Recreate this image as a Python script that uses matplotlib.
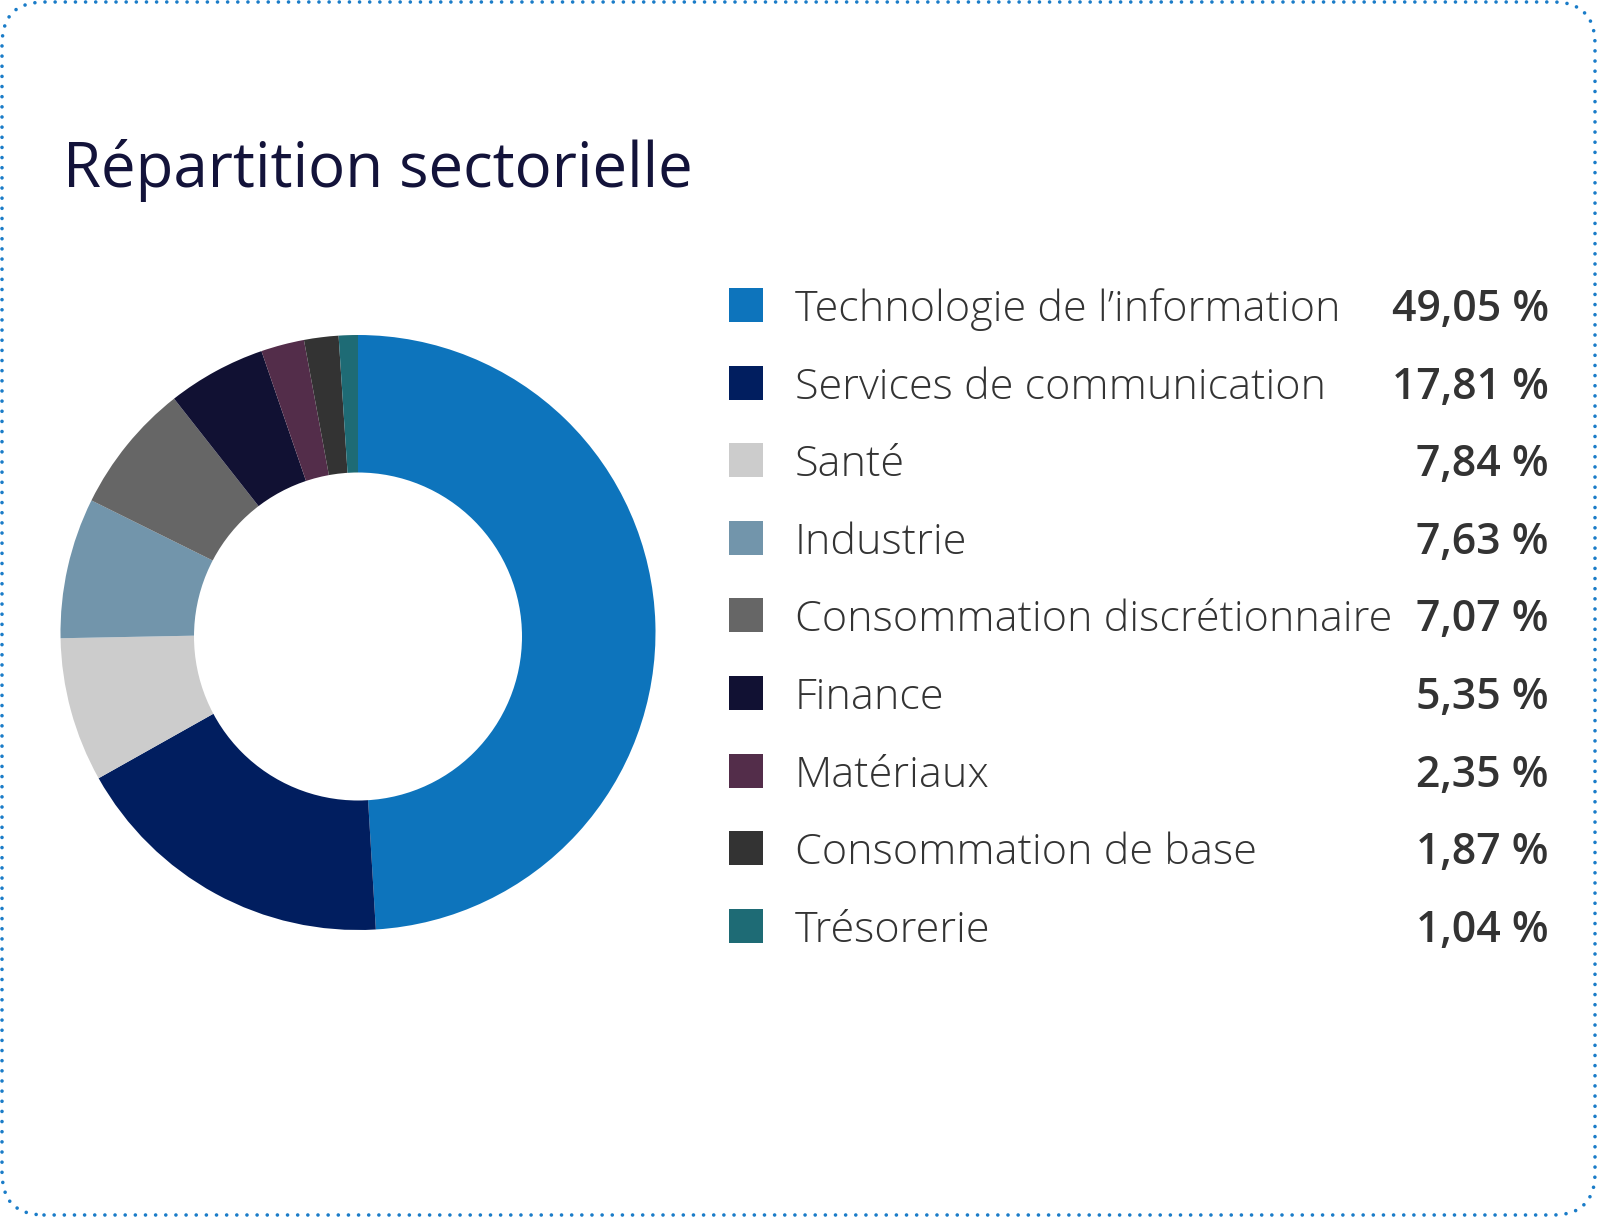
import matplotlib.pyplot as plt
from matplotlib.patches import FancyBboxPatch, Rectangle, Circle

# donnees
secteurs = ['Technologie de l’information', 'Services de communication', 'Santé',
            'Industrie', 'Consommation discrétionnaire', 'Finance', 'Matériaux',
            'Consommation de base', 'Trésorerie']
poids = [49.05, 17.81, 7.84, 7.63, 7.07, 5.35, 2.35, 1.87, 1.04]
etiquettes = ['49,05 %', '17,81 %', '7,84 %', '7,63 %', '7,07 %', '5,35 %',
              '2,35 %', '1,87 %', '1,04 %']
couleurs = ['#0D74BC', '#011E5F', '#CCCCCC', '#7295AB', '#666666', '#111133',
            '#532D4A', '#333333', '#1E6B75']

W, H = 1597, 1217
plt.rcParams['font.family'] = ['Open Sans', 'DejaVu Sans']

fig = plt.figure(figsize=(W / 100, H / 100), dpi=100)
ax = fig.add_axes([0, 0, 1, 1])

# anneau : camembert plein + trou blanc
ax.pie(poids, colors=couleurs, startangle=90, counterclock=False,
       center=(358, H - 632.5), radius=297.5,
       wedgeprops=dict(linewidth=0))
ax.add_patch(Circle((358, H - 636.5), 164, color='white', linewidth=0, zorder=5))
ax.set_xlim(0, W)
ax.set_ylim(0, H)
ax.set_aspect('equal')
ax.axis('off')

# cadre pointille
cadre = FancyBboxPatch((2, 2), W - 4, H - 4, boxstyle='round,pad=0,rounding_size=42',
                       fill=False, edgecolor='#1A7CC8', linewidth=2.6,
                       linestyle=(0, (0.01, 2.8)), capstyle='round')
ax.add_patch(cadre)

# titre
ax.text(63, H - 187, 'Répartition sectorielle', fontsize=44.5, color='#13133A',
        va='baseline', ha='left')

# legende
y0, pas = 305, 77.6
for i, (nom, val, c) in enumerate(zip(secteurs, etiquettes, couleurs)):
    yc = H - (y0 + i * pas)
    ax.add_patch(Rectangle((729, yc - 17), 34, 34, color=c, linewidth=0))
    ax.text(795, yc - 16, nom, fontsize=31.1, fontweight='light', color='#333333',
            va='baseline', ha='left')
    ax.text(1549, yc - 16, val, fontsize=30.8, fontweight='semibold', color='#333333',
            va='baseline', ha='right')

fig.savefig('out.png', dpi=100)
